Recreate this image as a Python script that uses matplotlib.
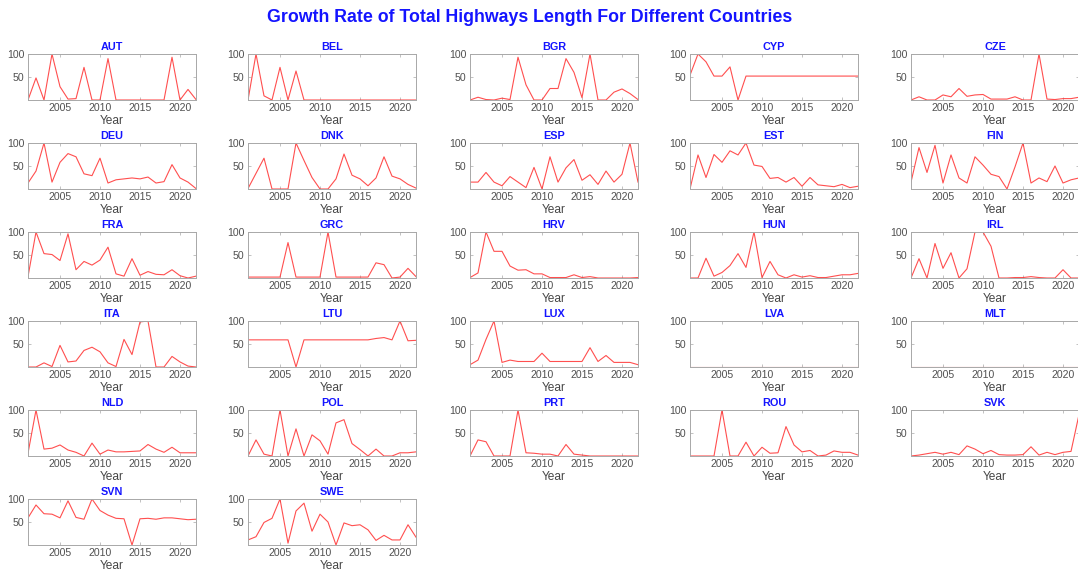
import numpy as np
import matplotlib
matplotlib.use("Agg")
import matplotlib.pyplot as plt

years = list(range(2001, 2023))

countries = ["AUT", "BEL", "BGR", "CYP", "CZE",
             "DEU", "DNK", "ESP", "EST", "FIN",
             "FRA", "GRC", "HRV", "HUN", "IRL",
             "ITA", "LTU", "LUX", "LVA", "MLT",
             "NLD", "POL", "PRT", "ROU", "SVK",
             "SVN", "SWE"]

AUT = [0, 48, 0, 100, 29, 2, 3, 71, 0, 0, 90, 0, 0, 0, 0, 0, 0, 0, 93, 0, 23, 1]
BEL = [0, 100, 9, 0, 71, 0, 63, 0, 0, 0, 0, 0, 0, 0, 0, 0, 0, 0, 0, 0, 0, 0]
BGR = [0, 6, 1, 0, 4, 1, 93, 33, 0, 0, 25, 25, 90, 60, 5, 100, 0, 0, 17, 24, 14, 1]
CYP = [54, 100, 83, 52, 52, 72, 0, 52, 52, 52, 52, 52, 52, 52, 52, 52, 52, 52, 52, 52, 52, 52]
CZE = [0, 7, 0, 0, 11, 7, 25, 8, 11, 12, 2, 2, 2, 7, 0, 0, 100, 2, 1, 3, 3, 6]
DEU = [13, 39, 100, 15, 58, 77, 70, 33, 29, 67, 13, 20, 22, 24, 22, 26, 13, 16, 53, 24, 15, 1]
DNK = [1, 34, 67, 0, 0, 0, 100, 62, 25, 0, 0, 22, 76, 30, 22, 7, 24, 70, 28, 22, 10, 2]
ESP = [15, 15, 36, 15, 7, 27, 15, 3, 47, 0, 70, 15, 46, 64, 19, 31, 10, 39, 15, 32, 100, 15]
EST = [0, 74, 25, 75, 58, 83, 74, 100, 52, 49, 23, 25, 15, 25, 6, 25, 9, 7, 5, 10, 3, 6]
FIN = [15, 90, 36, 95, 13, 74, 24, 13, 70, 52, 32, 27, 0, 48, 100, 13, 24, 16, 50, 13, 20, 24]
FRA = [3, 100, 53, 51, 38, 96, 18, 36, 28, 39, 67, 9, 4, 42, 6, 14, 8, 7, 18, 5, 0, 4]
GRC = [2, 2, 2, 2, 2, 77, 2, 2, 2, 2, 100, 2, 2, 2, 2, 2, 33, 29, 0, 2, 21, 3]
HRV = [1, 11, 100, 58, 58, 26, 17, 18, 9, 9, 1, 1, 1, 7, 1, 3, 0, 0, 0, 0, 0, 1]
HUN = [0, 0, 43, 4, 12, 27, 53, 23, 100, 1, 36, 7, 0, 7, 2, 5, 1, 1, 4, 7, 7, 10]
IRL = [0, 42, 0, 75, 21, 55, 0, 20, 100, 100, 69, 0, 0, 1, 1, 3, 1, 0, 0, 18, 0, 0]
ITA = [0, 0, 9, 1, 47, 11, 13, 36, 43, 33, 9, 1, 60, 27, 98, 100, 0, 0, 23, 11, 2, 0]
LTU = [59, 59, 59, 59, 59, 59, 0, 59, 59, 59, 59, 59, 59, 59, 59, 59, 62, 64, 59, 100, 57, 58]
LUX = [5, 15, 60, 100, 10, 15, 12, 12, 12, 30, 12, 12, 12, 12, 12, 42, 12, 25, 10, 10, 10, 5]
LVA = [0] * 22
MLT = [0] * 22
NLD = [6, 100, 15, 17, 24, 13, 8, 0, 28, 4, 13, 9, 9, 10, 11, 25, 15, 8, 19, 7, 7, 7]
POL = [0, 35, 4, 0, 100, 0, 59, 0, 46, 33, 4, 72, 79, 27, 14, 0, 15, 0, 0, 7, 7, 9]
PRT = [0, 35, 31, 0, 0, 0, 100, 7, 6, 4, 4, 0, 25, 4, 2, 0, 0, 0, 0, 0, 0, 0]
ROU = [0, 0, 0, 0, 100, 0, 0, 30, 0, 19, 6, 7, 64, 24, 9, 12, 0, 2, 11, 8, 8, 2]
SVK = [0, 2, 5, 8, 4, 8, 3, 22, 15, 5, 12, 3, 2, 2, 3, 20, 2, 8, 3, 8, 10, 90]
SVN = [59, 87, 68, 67, 59, 96, 60, 56, 100, 75, 65, 58, 57, 0, 57, 58, 56, 59, 59, 57, 55, 56]
SWE = [11, 18, 49, 58, 100, 4, 74, 91, 30, 67, 50, 0, 48, 42, 44, 33, 10, 21, 11, 11, 44, 17]

series = {"AUT": AUT, "BEL": BEL, "BGR": BGR, "CYP": CYP, "CZE": CZE,
          "DEU": DEU, "DNK": DNK, "ESP": ESP, "EST": EST, "FIN": FIN,
          "FRA": FRA, "GRC": GRC, "HRV": HRV, "HUN": HUN, "IRL": IRL,
          "ITA": ITA, "LTU": LTU, "LUX": LUX, "LVA": LVA, "MLT": MLT,
          "NLD": NLD, "POL": POL, "PRT": PRT, "ROU": ROU, "SVK": SVK,
          "SVN": SVN, "SWE": SWE}

xticks = [2005, 2010, 2015, 2020]
yticks = [50, 100]

plt.rcParams["font.family"] = ["Liberation Sans", "DejaVu Sans"]

W, H = 1078, 573
fig = plt.figure(figsize=(W / 100, H / 100), dpi=100)

col_left = [28, 248, 470, 690, 911]
row_top = [54, 143, 232, 321, 410, 499]
ax_w, ax_h = 168, 46

spine_col = "#a8a8a8"
tick_col = "#505050"

for i, name in enumerate(countries):
    r, c = divmod(i, 5)
    left = col_left[c] / W
    bottom = 1 - (row_top[r] + ax_h) / H
    ax = fig.add_axes([left, bottom, ax_w / W, ax_h / H])
    ax.plot(years, series[name], color="#ff3030", lw=0.8, alpha=0.85)
    ax.set_xlim(2001, 2022)
    ax.set_ylim(0, 100)
    ax.set_xticks(xticks)
    ax.set_yticks(yticks)
    ax.tick_params(direction="in", length=2, width=0.5, colors=spine_col,
                   labelcolor=tick_col, labelsize=7.6, pad=2.5,
                   top=True, right=True)
    for s in ax.spines.values():
        s.set_color(spine_col)
        s.set_linewidth(0.7)
    ax.set_title(name, color="#1414ff", fontsize=7.8, fontweight="bold", pad=3)
    ax.set_xlabel("Year", color="#464646", fontsize=8.6, labelpad=1)

fig.suptitle("Growth Rate of Total Highways Length For Different Countries",
             x=530 / W, y=1 - 17 / H, va="center",
             color="#1414ff", fontsize=12.8, fontweight="bold")

fig.savefig("out.png", dpi=100)
